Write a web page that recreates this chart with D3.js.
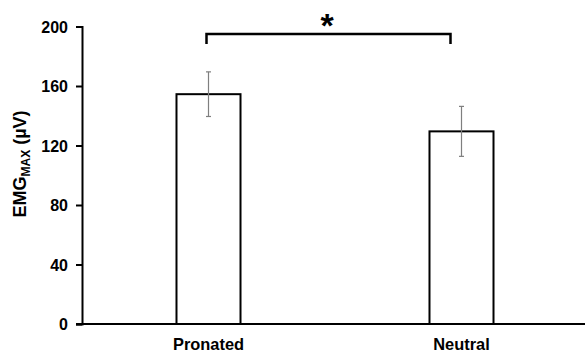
<!DOCTYPE html>
<html>
<head>
<meta charset="utf-8">
<script src="https://cdn.jsdelivr.net/npm/d3@7"></script>
<style>
  body { margin: 0; background: #fff; }
  text { font-family: Arial, "Liberation Sans", sans-serif; font-weight: bold; }
</style>
</head>
<body>
<svg id="chart" width="585" height="354"></svg>
<script>
// data
const categories = ["Pronated", "Neutral"]
const means = [154.5, 129.5]
const sds = [15, 16.8]
const yTicks = [0, 40, 80, 120, 160, 200]

const svg = d3.select("#chart")

// scales
const x = d3.scaleBand().domain(categories).range([82, 588]).padding(0)
const y = d3.scaleLinear().domain([0, 200]).range([324, 26.5])
const barW = x.bandwidth() * 0.253

// y axis
const yAxis = svg.append("g")
  .attr("transform", "translate(82,0)")
  .call(d3.axisLeft(y).tickValues(yTicks).tickSize(6).tickPadding(8))
yAxis.select(".domain").attr("stroke", "#000").attr("stroke-width", 2)
yAxis.selectAll(".tick line").attr("stroke", "#000").attr("stroke-width", 2)
yAxis.selectAll(".tick text")
  .style("font-size", "16px")
  .attr("fill", "#000")
  .attr("dy", "0.35em")

// bars
svg.selectAll(".bar")
  .data(categories)
  .enter()
  .append("rect")
  .attr("class", "bar")
  .attr("x", (d) => x(d) + x.bandwidth() / 2 - barW / 2)
  .attr("y", (d, i) => y(means[i]))
  .attr("width", barW)
  .attr("height", (d, i) => y(0) - y(means[i]))
  .attr("fill", "#fff")
  .attr("stroke", "#000")
  .attr("stroke-width", 2)

// error bars
const err = svg.selectAll(".err").data(categories).enter().append("g").attr("class", "err")
  .attr("stroke", "#7f7f7f").attr("stroke-width", 1.2)
err.append("line")
  .attr("x1", (d) => x(d) + x.bandwidth() / 2)
  .attr("x2", (d) => x(d) + x.bandwidth() / 2)
  .attr("y1", (d, i) => y(means[i] + sds[i]))
  .attr("y2", (d, i) => y(means[i] - sds[i]))
err.append("line")
  .attr("x1", (d) => x(d) + x.bandwidth() / 2 - 2.5)
  .attr("x2", (d) => x(d) + x.bandwidth() / 2 + 2.5)
  .attr("y1", (d, i) => y(means[i] + sds[i]))
  .attr("y2", (d, i) => y(means[i] + sds[i]))
err.append("line")
  .attr("x1", (d) => x(d) + x.bandwidth() / 2 - 2.5)
  .attr("x2", (d) => x(d) + x.bandwidth() / 2 + 2.5)
  .attr("y1", (d, i) => y(means[i] - sds[i]))
  .attr("y2", (d, i) => y(means[i] - sds[i]))

// x axis line
svg.append("line")
  .attr("x1", 76).attr("x2", 585)
  .attr("y1", y(0)).attr("y2", y(0))
  .attr("stroke", "#000").attr("stroke-width", 2)

// category labels
svg.selectAll(".xlab")
  .data(categories)
  .enter()
  .append("text")
  .attr("x", (d) => x(d) + x.bandwidth() / 2)
  .attr("y", 349.5)
  .attr("text-anchor", "middle")
  .style("font-size", "16.4px")
  .text((d) => d)

// significance bracket
const bx1 = x(categories[0]) + x.bandwidth() / 2 - 2
const bx2 = x(categories[1]) + x.bandwidth() / 2 - 11
const by = y(195)
svg.append("path")
  .attr("d", `M${bx1},${by + 10}V${by}H${bx2}V${by + 10}`)
  .attr("fill", "none")
  .attr("stroke", "#000")
  .attr("stroke-width", 2.5)
svg.append("text")
  .attr("x", 327)
  .attr("y", 37)
  .attr("text-anchor", "middle")
  .style("font-size", "34px")
  .text("*")

// y label
const yl = svg.append("text")
  .attr("transform", "translate(26,164) rotate(-90)")
  .attr("text-anchor", "middle")
  .style("font-size", "18px")
yl.append("tspan").text("EMG")
yl.append("tspan").attr("dy", 4).style("font-size", "12px").text("MAX")
yl.append("tspan").attr("dy", -4).text(" (µV)")
</script>
</body>
</html>
